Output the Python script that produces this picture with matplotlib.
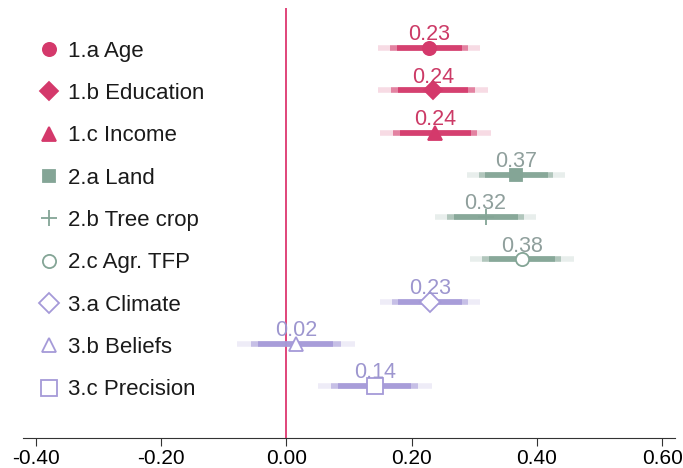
import numpy as np
import matplotlib.pyplot as plt
from matplotlib.lines import Line2D

plt.rcParams['font.family'] = ['Liberation Sans', 'DejaVu Sans']

# rows, top to bottom
labels = ['1.a Age', '1.b Education', '1.c Income',
          '2.a Land', '2.b Tree crop', '2.c Agr. TFP',
          '3.a Climate', '3.b Beliefs', '3.c Precision']
est = [0.228, 0.234, 0.238, 0.367, 0.318, 0.376, 0.229, 0.015, 0.141]
val_text = ['0.23', '0.24', '0.24', '0.37', '0.32', '0.38', '0.23', '0.02', '0.14']

# confidence bands (99%, 95%, 90%)
lo99 = [0.147, 0.146, 0.150, 0.289, 0.238, 0.293, 0.149, -0.079, 0.050]
hi99 = [0.309, 0.322, 0.326, 0.445, 0.398, 0.459, 0.309, 0.109, 0.232]
lo95 = [0.166, 0.167, 0.171, 0.308, 0.257, 0.313, 0.168, -0.057, 0.072]
hi95 = [0.290, 0.301, 0.305, 0.426, 0.379, 0.439, 0.290, 0.087, 0.210]
lo90 = [0.176, 0.178, 0.182, 0.317, 0.267, 0.323, 0.178, -0.045, 0.083]
hi90 = [0.280, 0.290, 0.294, 0.417, 0.369, 0.429, 0.280, 0.075, 0.199]

c1 = '#d4396b'
c2 = '#84a596'
c3 = '#a59ad8'
colors = [c1, c1, c1, c2, c2, c2, c3, c3, c3]
txt_colors = ['#cc3a66'] * 3 + ['#8f9f9c'] * 3 + ['#9d96cf'] * 3
markers = ['o', 'D', '^', 's', '+', 'o', 'D', '^', 's']
msizes = [9.5, 9.5, 10, 8.5, 12, 9.5, 10, 10, 12]
filled = [True, True, True, True, True, False, False, False, False]

ypos = np.arange(len(labels))[::-1] + 1

fig, ax = plt.subplots(figsize=(6.83, 4.68), dpi=100)
fig.subplots_adjust(left=0.034, right=0.988, bottom=0.064, top=0.983)

ax.axvline(0, color='#e0457a', lw=1.4, zorder=1)

handles = []
for i in range(len(labels)):
    y = ypos[i]
    col = colors[i]
    ax.plot([lo99[i], hi99[i]], [y, y], color=col, lw=4, alpha=0.18,
            solid_capstyle='butt', zorder=2)
    ax.plot([lo95[i], hi95[i]], [y, y], color=col, lw=4, alpha=0.55,
            solid_capstyle='butt', zorder=2)
    ax.plot([lo90[i], hi90[i]], [y, y], color=col, lw=4, alpha=0.9,
            solid_capstyle='butt', zorder=2)
    face = col if filled[i] else 'white'
    mew = 1.3
    ax.plot(est[i], y, marker=markers[i], ms=msizes[i], color=col,
            mfc=face, mec=col, mew=mew, ls='none', zorder=3)
    ax.annotate(val_text[i], (est[i], y), xytext=(0, 5.5),
                textcoords='offset points', ha='center', va='baseline',
                fontsize=15.5, color=txt_colors[i], zorder=4)
    handles.append(Line2D([], [], marker=markers[i], ms=msizes[i],
                          color=col, mfc=face, mec=col, mew=mew, ls='none'))

leg = ax.legend(handles, labels, loc='upper left', bbox_to_anchor=(0.0, 0.955),
                frameon=False, fontsize=16, labelspacing=0.96,
                handletextpad=0.3, handlelength=1.1, borderaxespad=0.2)
for t in leg.get_texts():
    t.set_color('#1a1a1a')

ax.set_xlim(-0.42, 0.62)
ax.set_ylim(-0.23, 9.95)
ax.set_xticks([-0.4, -0.2, 0.0, 0.2, 0.4, 0.6])
ax.set_xticklabels(['%.2f' % v for v in [-0.4, -0.2, 0.0, 0.2, 0.4, 0.6]])
ax.set_yticks([])
for s in ['top', 'right', 'left']:
    ax.spines[s].set_visible(False)
ax.spines['bottom'].set_color('#333333')
ax.tick_params(axis='x', labelsize=15, length=6, color='#333333', pad=2)

plt.savefig('out.png', dpi=100)
